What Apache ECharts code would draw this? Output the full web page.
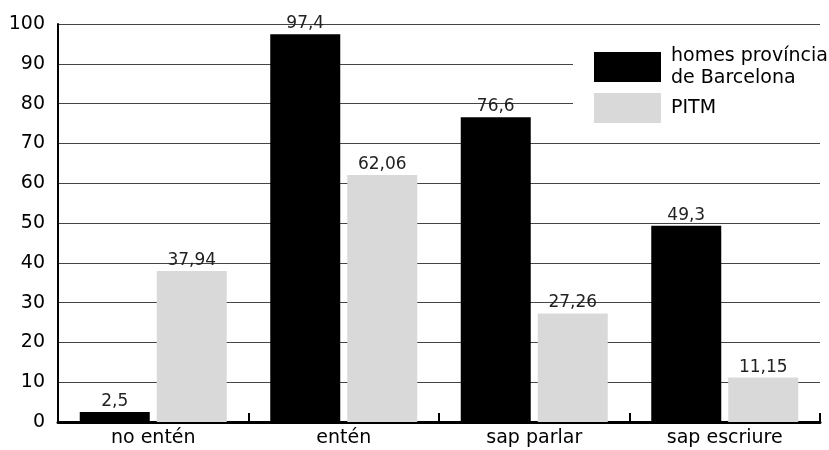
<!DOCTYPE html>
<html>
<head>
<meta charset="utf-8">
<script src="https://cdn.jsdelivr.net/npm/echarts@6/dist/echarts.min.js"></script>
<style>html,body{margin:0;padding:0;background:#fff}#c{width:829px;height:450px}</style>
</head>
<body>
<div id="c"></div>
<script>
const categories = ['no entén', 'entén', 'sap parlar', 'sap escriure'];
const seriesNames = ['homes província de Barcelona', 'PITM'];
const homesBarcelona = [2.5, 97.4, 76.6, 49.3];
const pitm = [37.94, 62.06, 27.26, 11.15];
const yTicks = [0, 10, 20, 30, 40, 50, 60, 70, 80, 90, 100];

const FONT = '"DejaVu Sans", sans-serif';
const chart = echarts.init(document.getElementById('c'), null, {renderer: 'canvas'});
const fmt = p => String(p.value).replace('.', ',');
const labelStyle = {show: true, position: 'top', distance: 2, formatter: fmt, color: '#222', fontSize: 17, fontFamily: FONT};

chart.setOption({
  animation: false,
  backgroundColor: '#fff',
  grid: {left: 58, right: 9, top: 24, bottom: 28, containLabel: false},
  legend: {
    orient: 'vertical',
    left: 573, top: 32,
    padding: [13, 2, 11, 21],
    backgroundColor: '#fff',
    itemWidth: 67, itemHeight: 30, itemGap: 4,
    z: 10,
    icon: 'rect',
    textStyle: {fontSize: 19, lineHeight: 22, color: '#000', fontFamily: FONT, padding: [0, 0, 0, 5]},
    formatter: n => n === seriesNames[0] ? 'homes província\nde Barcelona' : n,
    data: seriesNames
  },
  xAxis: {
    type: 'category',
    data: categories,
    axisLine: {lineStyle: {color: '#000', width: 3}},
    axisTick: {show: true, inside: true, length: 9, lineStyle: {color: '#000', width: 2}},
    axisLabel: {color: '#000', fontSize: 19, margin: 7, fontFamily: FONT}
  },
  yAxis: {
    type: 'value',
    min: yTicks[0], max: yTicks[yTicks.length - 1], interval: 10,
    axisLine: {show: true, lineStyle: {color: '#000', width: 2}},
    axisTick: {show: false},
    splitLine: {lineStyle: {color: '#444', width: 1}},
    axisLabel: {color: '#000', fontSize: 19, margin: 13, fontFamily: FONT}
  },
  series: [
    {name: seriesNames[0], type: 'bar', data: homesBarcelona, barWidth: 70, barGap: '10%',
     itemStyle: {color: '#000'}, label: labelStyle},
    {name: seriesNames[1], type: 'bar', data: pitm, barWidth: 70,
     itemStyle: {color: '#d9d9d9'}, label: labelStyle}
  ]
});
</script>
</body>
</html>
